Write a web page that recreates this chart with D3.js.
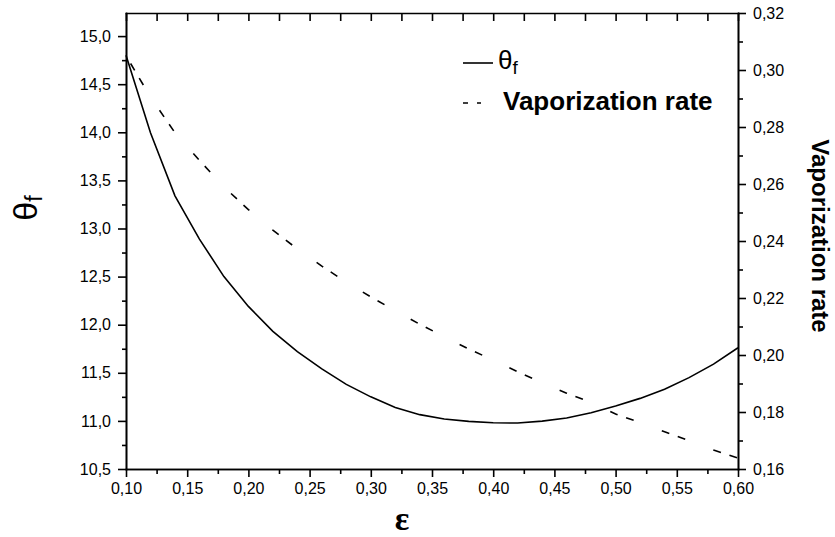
<!DOCTYPE html>
<html>
<head>
<meta charset="utf-8">
<script src="https://cdn.jsdelivr.net/npm/d3@7"></script>
<style>
  body { margin: 0; background: #fff; }
  svg text { font-family: "Liberation Sans", Arial, sans-serif; fill: #000; }
  .axis path, .axis line { stroke: #000; stroke-width: 1.6; }
  .axis text { font-size: 16px; }
</style>
</head>
<body>
<script>
// values
var eps = [0.10, 0.12, 0.14, 0.16, 0.18, 0.20, 0.22, 0.24, 0.26, 0.28, 0.30, 0.32, 0.34,
           0.36, 0.38, 0.40, 0.42, 0.44, 0.46, 0.48, 0.50, 0.52, 0.54, 0.56, 0.58, 0.60];
var thetaF = [14.80, 13.995, 13.34, 12.89, 12.50, 12.19, 11.93, 11.72, 11.54, 11.38, 11.25, 11.14, 11.065,
              11.02, 10.995, 10.98, 10.978, 10.998, 11.03, 11.085, 11.155, 11.234, 11.33, 11.45, 11.59, 11.76];
var vapRate = [0.305, 0.2905, 0.2780, 0.2683, 0.2590, 0.2510, 0.2438, 0.2372, 0.2312, 0.2255, 0.2204, 0.2155, 0.2108,
               0.2064, 0.2021, 0.1982, 0.1941, 0.1903, 0.1866, 0.1834, 0.1793, 0.1763, 0.1731, 0.1699, 0.1667, 0.1638];

var xTicks = [0.10, 0.15, 0.20, 0.25, 0.30, 0.35, 0.40, 0.45, 0.50, 0.55, 0.60];
var yTicks = [10.5, 11.0, 11.5, 12.0, 12.5, 13.0, 13.5, 14.0, 14.5, 15.0];
var y2Ticks = [0.16, 0.18, 0.20, 0.22, 0.24, 0.26, 0.28, 0.30, 0.32];

var W = 835, H = 537;
var margin = {top: 13, right: 97, bottom: 68, left: 126},
    width = W - margin.left - margin.right,
    height = H - margin.top - margin.bottom;

// comma decimal separator, like the original
var loc = d3.formatLocale({decimal: ",", thousands: ".", grouping: [3], currency: ["", ""]});
var f2 = loc.format(".2f"), f1 = loc.format(".1f");

var x = d3.scaleLinear().domain([0.10, 0.60]).range([0, width]);
var y = d3.scaleLinear().domain([10.5, 15.24]).range([height, 0]);
var y2 = d3.scaleLinear().domain([0.16, 0.32]).range([height, 0]);

function minors(ticks, step) {
    return ticks.slice(0, -1).map(function (t) { return t + step / 2; });
}

var svg = d3.select("body").append("svg")
    .attr("width", W)
    .attr("height", H)
    .append("g")
    .attr("transform", "translate(" + margin.left + "," + margin.top + ")");

// bottom axis
svg.append("g").attr("class", "axis")
    .attr("transform", "translate(0," + height + ")")
    .call(d3.axisBottom(x).tickValues(xTicks).tickSize(8).tickSizeOuter(0).tickPadding(6).tickFormat(f2));
svg.append("g").attr("class", "axis")
    .attr("transform", "translate(0," + height + ")")
    .call(d3.axisBottom(x).tickValues(minors(xTicks, 0.05)).tickSize(5).tickSizeOuter(0).tickFormat(""));

// top axis, ticks inside
svg.append("g").attr("class", "axis")
    .call(d3.axisTop(x).tickValues(xTicks.concat(minors(xTicks, 0.05))).tickSize(-8).tickSizeOuter(0).tickFormat(""));

// left axis
svg.append("g").attr("class", "axis")
    .call(d3.axisLeft(y).tickValues(yTicks).tickSize(8).tickSizeOuter(0).tickPadding(7).tickFormat(f1));
svg.append("g").attr("class", "axis")
    .call(d3.axisLeft(y).tickValues(minors(yTicks, 0.5)).tickSize(4).tickSizeOuter(0).tickFormat(""));

// right axis
svg.append("g").attr("class", "axis")
    .attr("transform", "translate(" + width + ",0)")
    .call(d3.axisRight(y2).tickValues(y2Ticks).tickSize(8).tickSizeOuter(0).tickPadding(7).tickFormat(f2));
svg.append("g").attr("class", "axis")
    .attr("transform", "translate(" + width + ",0)")
    .call(d3.axisRight(y2).tickValues(minors(y2Ticks, 0.02)).tickSize(5).tickSizeOuter(0).tickFormat(""));

svg.selectAll(".axis path.domain").attr("stroke-linecap", "square");

// curves
var lineTheta = d3.line()
    .x(function (d, i) { return x(eps[i]); })
    .y(function (d) { return y(d); });
var lineVap = d3.line()
    .x(function (d, i) { return x(eps[i]); })
    .y(function (d) { return y2(d); });

svg.append("path").datum(thetaF)
    .attr("d", lineTheta)
    .attr("fill", "none").attr("stroke", "#000").attr("stroke-width", 1.6);

svg.append("path").datum(vapRate)
    .attr("d", lineVap)
    .attr("fill", "none").attr("stroke", "#000").attr("stroke-width", 1.6)
    .attr("stroke-dasharray", "8,9,8,30").attr("stroke-dashoffset", -9);

// legend
var lg = svg.append("g").attr("transform", "translate(" + (463 - margin.left) + "," + (63 - margin.top) + ")");
lg.append("line").attr("x1", 0).attr("x2", 30).attr("y1", 0).attr("y2", 0)
    .attr("stroke", "#000").attr("stroke-width", 1.6);
var lt = lg.append("text").attr("x", 35).attr("y", 6).style("font-size", "26px");
lt.append("tspan").text("θ");
lt.append("tspan").attr("dy", 5).style("font-size", "19px").text("f");

lg.append("line").attr("x1", 0).attr("x2", 18).attr("y1", 40).attr("y2", 40)
    .attr("stroke", "#000").attr("stroke-width", 1.6).attr("stroke-dasharray", "5,9");
lg.append("text").attr("x", 40).attr("y", 47)
    .style("font-size", "26px").style("font-weight", "bold")
    .text("Vaporization rate");

// axis titles
svg.append("text")
    .attr("x", 402 - margin.left).attr("y", 530 - margin.top)
    .attr("text-anchor", "middle")
    .style("font-family", "'Liberation Serif', serif")
    .style("font-size", "34px").style("font-weight", "bold")
    .text("ε");

var yl = svg.append("text")
    .attr("transform", "translate(" + (37 - margin.left) + "," + (208 - margin.top) + ") rotate(-90)")
    .attr("text-anchor", "middle")
    .style("font-size", "34px");
yl.append("tspan").text("θ");
yl.append("tspan").attr("dy", 5).style("font-size", "23px").text("f");

svg.append("text")
    .attr("transform", "translate(" + (812 - margin.left) + "," + (236 - margin.top) + ") rotate(90)")
    .attr("text-anchor", "middle")
    .style("font-size", "24px").style("font-weight", "bold")
    .text("Vaporization rate");
</script>
</body>
</html>
